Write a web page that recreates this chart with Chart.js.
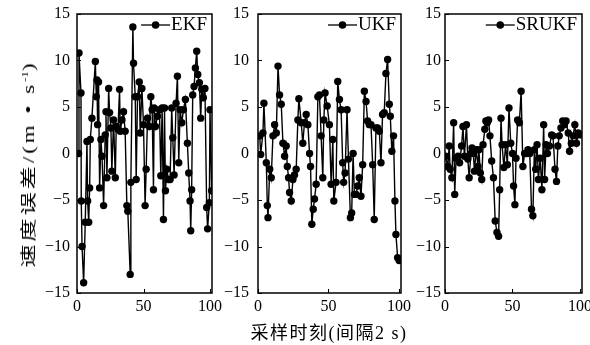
<!DOCTYPE html>
<html>
<head>
<meta charset="utf-8">
<script src="https://cdn.jsdelivr.net/npm/chart.js@4"></script>
<style>
  body { margin: 0; background: #fff; }
  #wrap { position: relative; width: 590px; height: 345px; overflow: hidden; }
  canvas { position: absolute; top: 0; }
  .title { position: absolute; font-family: "Liberation Serif", "Noto Sans CJK SC", serif; color: #000; white-space: nowrap; }
  #xtitle { font-size: 18px; letter-spacing: 1.5px; left: 329px; top: 318px; transform: translateX(-50%); }
  #ytitle { font-size: 16px; letter-spacing: 2px; left: 27px; top: 164px; transform: translate(-50%, -50%) rotate(-90deg) scaleX(1.45); }
  #ytitle sup { font-size: 9px; letter-spacing: 0; }
</style>
</head>
<body>
<div id="wrap">
  <canvas id="c1" width="240" height="345" style="left:0px"></canvas>
  <canvas id="c2" width="215" height="345" style="left:215px"></canvas>
  <canvas id="c3" width="185" height="345" style="left:405px"></canvas>
  <div class="title" id="ytitle">速度误差/(m • s<sup>-1</sup>)</div>
  <div class="title" id="xtitle">采样时刻(间隔2 s)</div>
</div>
<script>
// tick labels
const yTicks = [-15, -10, -5, 0, 5, 10, 15]
const xTicks = [0, 50, 100]

// EKF (x = sample index, y = m/s)
const ekfX = [1.2, 1.5, 3.0, 3.2, 3.8, 5.0, 6.2, 7.5, 8.0, 8.8, 9.5, 10.0, 11.2, 13.8, 14.5, 15.0, 15.5, 16.2, 17.0, 18.0,
  18.8, 20.0, 21.2, 21.8, 22.5, 23.8, 24.5, 25.5, 26.2, 27.5, 28.8, 29.5, 30.8, 32.0, 32.5, 33.8, 35.0, 36.2, 37.5, 38.2,
  40.0, 40.5, 42.0, 42.5, 43.8, 44.5, 45.5, 46.8, 47.5, 48.8, 50.0, 51.2, 52.0, 53.0, 54.5, 55.5, 56.5, 57.5, 58.0, 59.0,
  60.5, 62.0, 63.0, 64.0, 65.0, 65.8, 66.5, 67.5, 68.8, 70.0, 71.2, 72.0, 73.0, 74.5, 75.5, 76.5, 77.5, 78.8, 80.0, 81.5,
  83.0, 84.0, 85.0, 85.5, 86.2, 87.0, 88.0, 89.0, 90.0, 90.8, 92.0, 93.0, 93.8, 95.0, 96.2, 97.5, 98.2, 99.5, 100.0, 101.2]
const ekfY = [0.0, 10.8, 6.5, -5.1, -10.0, -13.9, -7.4, 1.3, -5.1, -7.4, -3.7, 1.5, 3.8, 9.9, 6.1, 7.9, 3.1, 7.7, -3.7, 1.5,
  -0.3, -5.6, 2.0, 4.5, -2.6, 7.0, 4.4, 2.75, -1.9, 3.6, -2.6, 2.9, 2.6, 6.9, 2.4, 3.6, 4.5, 2.4, -5.6, -6.2,
  -13.0, -3.1, 13.6, 9.7, 6.1, -2.8, 6.1, 7.7, 2.2, 7.0, 3.1, -5.6, -1.7, 3.8, 2.9, 6.1, 4.7, -3.9, 4.9, 2.9,
  4.0, 4.7, -2.4, 4.9, -7.1, 4.9, -4.0, -1.7, -2.8, -2.8, 4.9, 1.7, -2.3, 5.4, 8.3, -1.0, 4.7, 3.3, 4.7, 5.8,
  1.1, -2.1, -5.1, -8.3, -3.9, 6.3, 7.2, 9.2, 11.0, 8.5, 7.6, 3.8, 6.9, 6.0, 7.0, -5.8, -8.1, -5.3, 4.7, -4.0]

// UKF
const ukfX = [1.2, 1.9, 3.5, 4.2, 5.9, 6.6, 7.1, 8.3, 9.4, 10.6, 11.8, 13.0, 14.2, 15.3, 16.5, 17.7, 18.9, 20.0, 20.8, 21.7,
  22.4, 23.6, 24.8, 25.9, 27.1, 28.3, 29.0, 30.7, 31.8, 33.0, 34.2, 35.4, 36.6, 37.3, 38.2, 39.2, 40.1, 41.3, 42.5, 43.6,
  44.8, 46.0, 46.7, 47.6, 49.1, 50.7, 51.9, 53.1, 53.8, 55.4, 56.6, 57.8, 59.0, 60.1, 60.8, 61.8, 63.2, 64.2, 65.6, 66.5,
  67.5, 68.4, 69.6, 70.8, 71.9, 73.1, 74.3, 75.5, 76.7, 77.8, 79.0, 80.2, 81.4, 82.5, 83.7, 84.9, 86.1, 87.3, 88.4, 89.6,
  90.8, 92.0, 93.2, 93.9, 95.0, 96.2, 97.2, 97.9, 99.1, 100.2]
const ukfY = [1.9, -0.1, 2.2, 5.4, -1.0, -5.6, -6.9, -1.7, -2.6, 1.9, 3.1, 2.2, 9.4, 6.3, 5.3, 1.1, -0.3, 0.8, -1.4, -2.6,
  -4.2, -5.1, -2.8, -2.3, -1.7, 3.6, 5.9, 3.3, 1.1, 3.3, 4.2, 3.1, 0.0, -1.4, -7.6, -6.0, -4.9, -3.3, 6.1, 6.3,
  1.9, -2.6, 3.6, 6.5, 5.1, 3.1, -3.3, 1.5, -5.1, -3.1, 7.75, 5.8, 4.7, -1.0, -3.1, -2.1, 4.7, -0.6, -6.9, -6.4,
  0.0, -4.4, -4.4, -3.5, -2.6, -4.6, -1.2, 6.7, 5.6, 3.5, 3.1, 3.1, -1.2, -7.1, 2.75, 2.75, 2.4, -1.0, 4.2, 4.4,
  8.6, 10.1, 5.3, 4.0, 0.25, 1.9, -5.1, -8.7, -11.2, -11.5]

// SRUKF
const srukfX = [0.5, 2.1, 3.1, 3.8, 5.1, 6.4, 7.2, 8.2, 9.7, 10.8, 12.3, 13.3, 14.4, 15.9, 16.9, 17.9, 19.2, 20.0, 21.0, 21.8,
  23.1, 24.4, 25.1, 26.2, 27.2, 28.2, 29.5, 30.3, 31.3, 32.3, 33.3, 34.6, 35.9, 37.2, 38.5, 39.7, 40.5, 41.5, 42.3, 43.6,
  44.9, 46.2, 47.4, 48.7, 50.0, 50.8, 51.8, 52.6, 53.8, 55.1, 56.4, 57.7, 59.0, 60.3, 61.5, 62.8, 64.1, 65.1, 66.2, 67.2,
  68.2, 69.2, 70.5, 71.8, 73.1, 73.8, 74.9, 75.9, 77.4, 79.0, 80.0, 81.5, 82.6, 83.6, 84.6, 85.9, 87.2, 88.5, 89.7, 91.3,
  92.3, 93.6, 94.9, 96.2, 97.4, 98.7, 100.0]
const srukfY = [-0.3, -1.4, 0.8, -1.7, -2.6, 3.3, -4.4, -0.5, -0.3, -1.0, 0.8, 2.9, -0.3, 3.1, -0.6, -2.6, 0.0, 0.6, 0.0, -1.9,
  0.4, -1.4, 0.4, -2.1, -2.8, 0.95, 2.6, 3.5, 3.3, 3.6, 1.9, -0.8, -2.6, -7.25, -8.5, -8.9, -3.9, 3.8, 0.95, -1.5,
  0.95, -1.2, 4.9, 1.1, 0.0, -3.5, -5.5, -0.5, 3.6, 3.3, 6.7, -1.4, 0.0, 0.0, 0.4, 0.0, -6.0, -6.7, 0.4, -1.7,
  0.95, -2.8, -0.5, -3.9, 3.1, -2.8, 0.95, 0.0, 0.8, 2.0, 1.9, -1.7, -3.0, 0.8, 1.9, 2.75, 3.5, 3.1, 3.5, 2.2,
  0.25, 1.1, 1.9, 3.1, 1.1, 2.2, 2.0]

const FONT = '"Liberation Serif", "Times New Roman", serif'

// frame box, inward ticks and the little legend in the top right corner
const framePlugin = {
  id: 'frame',
  afterDraw(chart) {
    const { ctx, chartArea: a, scales } = chart
    ctx.save()
    ctx.strokeStyle = '#000'
    ctx.lineWidth = 1.5
    ctx.strokeRect(a.left, a.top, a.right - a.left, a.bottom - a.top)
    ctx.lineWidth = 1
    ctx.beginPath()
    for (const v of yTicks) {
      const y = Math.round(scales.y.getPixelForValue(v)) + 0.5
      ctx.moveTo(a.left, y)
      ctx.lineTo(a.left + 4, y)
    }
    for (const v of xTicks) {
      const x = Math.round(scales.x.getPixelForValue(v)) + 0.5
      ctx.moveTo(x, a.bottom)
      ctx.lineTo(x, a.bottom - 4)
    }
    ctx.stroke()

    const label = chart.data.datasets[0].label
    ctx.font = '19px ' + FONT
    ctx.fillStyle = '#000'
    ctx.textAlign = 'right'
    ctx.textBaseline = 'middle'
    const tx = a.right - 5
    const ty = a.top + 11
    ctx.fillText(label, tx, ty)
    const w = ctx.measureText(label).width
    const x1 = tx - w - 1
    ctx.beginPath()
    ctx.lineWidth = 1.3
    ctx.moveTo(x1 - 29, ty)
    ctx.lineTo(x1, ty)
    ctx.stroke()
    ctx.beginPath()
    ctx.arc(x1 - 14.5, ty, 3.8, 0, Math.PI * 2)
    ctx.fill()
    ctx.restore()
  }
}

function createPanel(id, label, xs, ys, yWidth, rightPad, labelPad) {
  const points = xs.map((x, i) => ({ x: x, y: ys[i] }))
  new Chart(document.getElementById(id), {
    type: 'line',
    data: {
      datasets: [{
        label: label,
        data: points,
        borderColor: '#000',
        borderWidth: 1.4,
        pointRadius: 3.7,
        pointBackgroundColor: '#000',
        pointBorderWidth: 0,
        tension: 0,
      }],
    },
    options: {
      responsive: false,
      animation: false,
      layout: { padding: { top: 14, right: rightPad, left: 0, bottom: 0 } },
      plugins: { legend: { display: false }, tooltip: { enabled: false } },
      scales: {
        x: {
          type: 'linear',
          min: 0,
          max: 101.5,
          grid: { display: false, drawTicks: false },
          border: { display: false },
          afterBuildTicks: (s) => { s.ticks = xTicks.map(v => ({ value: v })) },
          afterFit: (s) => { s.height = 52; s.paddingLeft = 0; s.paddingRight = 0 },
          ticks: {
            padding: 4,
            maxRotation: 0,
            color: '#000',
            font: { family: FONT, size: 16 },
          },
        },
        y: {
          min: -15,
          max: 15,
          grid: { display: false, drawTicks: false },
          border: { display: false },
          afterBuildTicks: (s) => { s.ticks = yTicks.map(v => ({ value: v })) },
          afterFit: (s) => { s.width = yWidth; s.paddingTop = 0; s.paddingBottom = 0 },
          ticks: {
            padding: labelPad,
            color: '#000',
            font: { family: FONT, size: 16 },
            callback: (v) => String(v).replace('-', '\u2212'),
          },
        },
      },
    },
    plugins: [framePlugin],
  })
}

createPanel('c1', 'EKF', ekfX, ekfY, 77, 28, 7)
createPanel('c2', 'UKF', ukfX, ukfY, 43, 29, 9)
createPanel('c3', 'SRUKF', srukfX, srukfY, 40, 8, 4)
</script>
</body>
</html>
